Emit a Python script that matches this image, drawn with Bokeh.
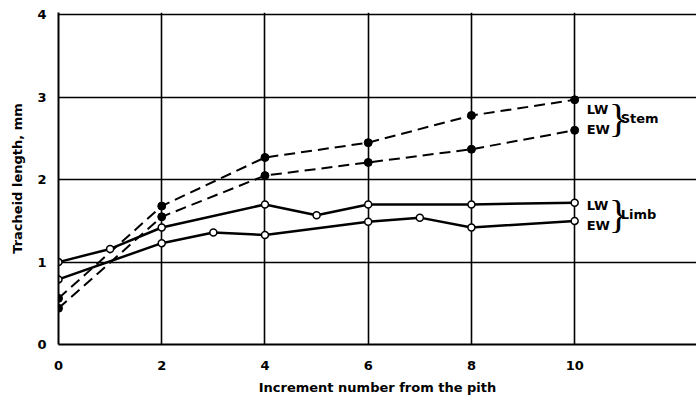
from bokeh.plotting import figure
from bokeh.models import Range1d, FixedTicker
from bokeh.core.properties import value
from bokeh.embed import file_html
from bokeh.resources import INLINE

x_ticks = [0, 2, 4, 6, 8, 10]
y_ticks = [0, 1, 2, 3, 4]

stem_lw_x = [0, 2, 4, 6, 8, 10]
stem_lw_y = [0.56, 1.68, 2.27, 2.45, 2.78, 2.97]
stem_ew_x = [0, 2, 4, 6, 8, 10]
stem_ew_y = [0.44, 1.55, 2.05, 2.21, 2.37, 2.60]
limb_lw_x = [0, 1, 2, 4, 5, 6, 8, 10]
limb_lw_y = [1.00, 1.16, 1.42, 1.70, 1.57, 1.70, 1.70, 1.72]
limb_ew_x = [0, 2, 3, 4, 6, 7, 8, 10]
limb_ew_y = [0.79, 1.23, 1.36, 1.33, 1.49, 1.54, 1.42, 1.50]

FONT = "DejaVu Sans"

p = figure(width=696, height=398, output_backend="svg", toolbar_location=None,
           x_range=Range1d(0, 12.36), y_range=Range1d(0, 4.03),
           min_border_left=58, min_border_right=0, min_border_top=12, min_border_bottom=54)
p.outline_line_color = None
p.background_fill_color = "white"
p.border_fill_color = "white"

for ax in (p.xaxis[0], p.yaxis[0]):
    ax.axis_line_color = "black"
    ax.axis_line_width = 2
    ax.major_tick_line_color = None
    ax.minor_tick_line_color = None
    ax.major_label_text_font = FONT
    ax.major_label_text_font_style = "bold"
    ax.major_label_text_font_size = "13px"
    ax.major_label_text_color = "black"
    ax.axis_label_text_font = FONT
    ax.axis_label_text_font_style = "bold"
    ax.axis_label_text_font_size = "13px"
    ax.axis_label_text_color = "black"

p.xaxis[0].ticker = FixedTicker(ticks=x_ticks)
p.yaxis[0].ticker = FixedTicker(ticks=y_ticks)
p.xaxis[0].major_label_standoff = 10
p.yaxis[0].major_label_standoff = 6
p.xaxis[0].axis_label = "Increment number from the pith"
p.yaxis[0].axis_label = "Tracheid length, mm"
p.xaxis[0].axis_label_standoff = 7
p.yaxis[0].axis_label_standoff = 9

p.xgrid[0].ticker = FixedTicker(ticks=x_ticks)
p.ygrid[0].ticker = FixedTicker(ticks=[1, 2, 3, 4])
for g in (p.xgrid[0], p.ygrid[0]):
    g.grid_line_color = "black"
    g.grid_line_width = 1.6
    g.grid_line_alpha = 1.0

# Stem (dashed, filled markers)
for xs, ys in ((stem_lw_x, stem_lw_y), (stem_ew_x, stem_ew_y)):
    p.line(xs, ys, line_color="black", line_width=2, line_dash="11 6")
    p.scatter(xs, ys, size=8, fill_color="black", line_color="black")

# Limb (solid, open markers)
for xs, ys in ((limb_lw_x, limb_lw_y), (limb_ew_x, limb_ew_y)):
    p.line(xs, ys, line_color="black", line_width=2.5)
    p.scatter(xs, ys, size=7, fill_color="white", line_color="black", line_width=1.5)

# Labels at the right end
groups = [("Stem", stem_lw_x[-1], stem_lw_y[-1], stem_ew_y[-1]),
          ("Limb", limb_lw_x[-1], limb_lw_y[-1], limb_ew_y[-1])]
for name, xe, ylw, yew in groups:
    ym = (ylw + yew) / 2
    common = dict(text_baseline="middle", text_align="left", text_color="black")
    p.text([xe], [ym], text=["LW"], x_offset=12, y_offset=-6,
           text_font=value(FONT), text_font_size="13px", text_font_style="bold", **common)
    p.text([xe], [ym], text=["EW"], x_offset=12, y_offset=14,
           text_font=value(FONT), text_font_size="13px", text_font_style="bold", **common)
    p.text([xe], [ym], text=["}"], x_offset=34, y_offset=3,
           text_font=value("Liberation Serif"), text_font_size="40px", **common)
    p.text([xe], [ym], text=[name], x_offset=46, y_offset=3,
           text_font=value(FONT), text_font_size="13px", text_font_style="bold", **common)

open("out.html", "w").write(file_html(p, INLINE))
